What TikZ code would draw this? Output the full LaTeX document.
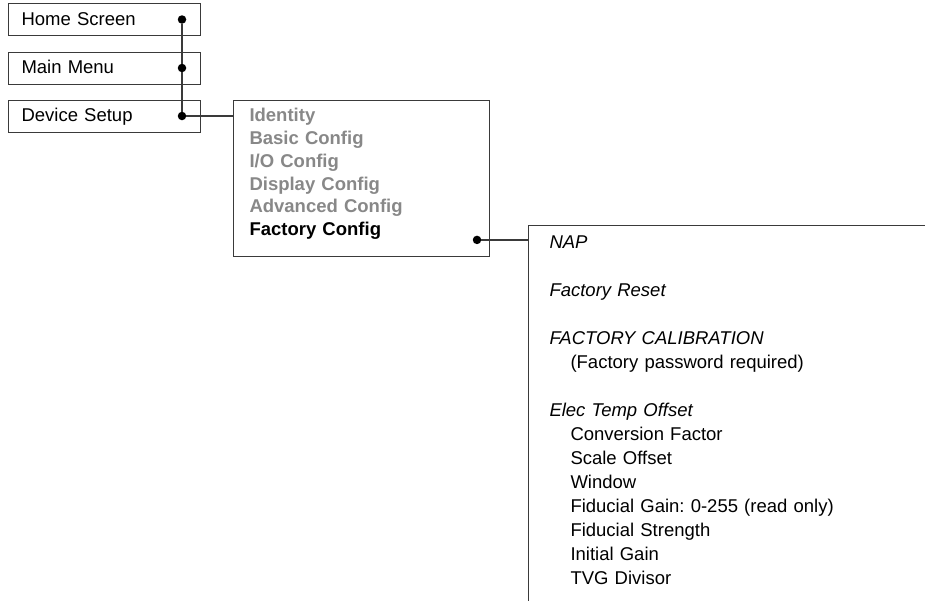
\documentclass[tikz,border=0pt]{standalone}
\usepackage{fontspec}
\setmainfont{Liberation Sans}
\usepackage{xcolor}
\usepackage{tikz}
\usetikzlibrary{positioning}

\definecolor{greytext}{HTML}{888888}
\definecolor{edgegrey}{HTML}{3A3A3A}

\begin{document}
\frenchspacing
\begin{tikzpicture}[
    x=1pt, y=1pt,
    font=\fontsize{18.5}{22.7}\selectfont,
    menubox/.style={draw=edgegrey, fill=white, line width=1pt, anchor=north west,
                    text width=166pt, inner xsep=13pt, inner ysep=0pt,
                    minimum height=32pt, text height=13.5pt, text depth=2pt, align=left},
    listbox/.style={draw=edgegrey, fill=white, line width=1pt, anchor=north west, align=left},
    link/.style={draw=edgegrey, line width=1.4pt},
    dot/.style={circle, fill=black, inner sep=0pt, minimum size=8.5pt},
]
\path[use as bounding box] (0,0) rectangle (925,-600);
\clip (0,0) rectangle (925,-600);

% menu path
\node[menubox] (home) at (8,-3) {Home Screen};
\node[menubox, below=15.5pt of home.south west, anchor=north west] (main) {Main Menu};
\node[menubox, below=15pt of main.south west, anchor=north west] (devset) {Device Setup};

% device setup list
\node[listbox, text width=224pt, inner xsep=16pt, inner ysep=8.5pt, text depth=126pt]
    (midbox) at ([xshift=32pt]devset.north east)
    {\bfseries\color{greytext}Identity\\
     Basic Config\\
     I/O Config\\
     Display Config\\
     Advanced Config\\
     \color{black}Factory Config};

% factory config list
\node[listbox, text width=420pt, inner xsep=21pt, inner ysep=10.5pt, text depth=400pt,
      font=\fontsize{18.5}{24}\selectfont]
    (factbox) at ([shift={(38,32)}]midbox.south east)
    {\itshape NAP\\[24pt]
     Factory Reset\\[24pt]
     FACTORY CALIBRATION\\
     \upshape\hspace*{21pt}(Factory password required)\\[24pt]
     \itshape Elec Temp Offset\\
     \upshape\hspace*{21pt}Conversion Factor\\
     \hspace*{21pt}Scale Offset\\
     \hspace*{21pt}Window\\
     \hspace*{21pt}Fiducial Gain: 0-255 (read only)\\
     \hspace*{21pt}Fiducial Strength\\
     \hspace*{21pt}Initial Gain\\
     \hspace*{21pt}TVG Divisor};

\node[dot] (homedot) at ([xshift=-19pt]home.east) {};
\node[dot] (maindot) at ([xshift=-19pt]main.east) {};
\node[dot] (devdot) at ([xshift=-19pt]devset.east) {};
\node[dot] (factdot) at ([shift={(-13,17)}]midbox.south east) {};

\draw[link] (homedot) -- (maindot);
\draw[link] (maindot) -- (devdot);
\draw[link] (devdot) -- (devdot -| midbox.west);
\draw[link] (factdot) -- (factdot -| factbox.west);
\end{tikzpicture}
\end{document}
